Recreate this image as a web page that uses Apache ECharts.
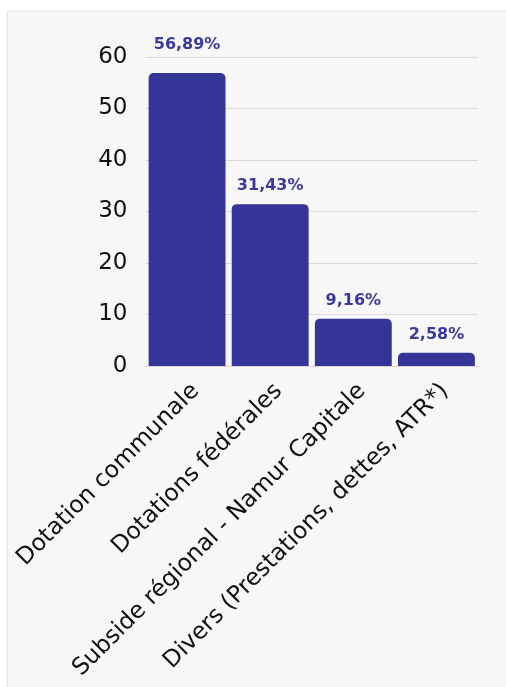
<!DOCTYPE html>
<html>
<head>
<meta charset="utf-8">
<script src="https://cdn.jsdelivr.net/npm/echarts@6/dist/echarts.min.js"></script>
<style>
html, body { margin: 0; padding: 0; background: #ffffff; width: 506px; height: 687px; overflow: hidden; }
#panel { position: absolute; left: 7px; top: 11px; width: 540px; height: 720px; background: #f7f7f7; border: 1px solid #dde9e9; box-sizing: border-box; }
#chart { position: absolute; left: 0; top: 0; width: 506px; height: 687px; }
</style>
</head>
<body>
<div id="panel"></div>
<div id="chart"></div>
<script>
const categories = [
  "Dotation communale",
  "Dotations fédérales",
  "Subside régional - Namur Capitale",
  "Divers (Prestations, dettes, ATR*)"
];
const values = [56.89, 31.43, 9.16, 2.58];
const yTicks = [0, 10, 20, 30, 40, 50, 60];

const chart = echarts.init(document.getElementById('chart'), null, { renderer: 'canvas' });
chart.setOption({
  backgroundColor: 'transparent',
  animation: false,
  grid: { left: 145.5, right: 28, top: 57, bottom: 321, containLabel: false },
  xAxis: {
    type: 'category',
    data: categories,
    axisLine: { show: true, lineStyle: { color: '#d6d6d6', width: 1 } },
    axisTick: { show: false },
    axisLabel: {
      rotate: 45,
      interval: 0,
      margin: 13,
      verticalAlign: 'top',
      color: '#111111',
      fontFamily: 'DejaVu Sans',
      fontSize: 23.5
    }
  },
  yAxis: {
    type: 'value',
    min: yTicks[0],
    max: yTicks[yTicks.length - 1],
    interval: 10,
    axisLine: { show: false },
    axisTick: { show: false },
    splitLine: { lineStyle: { color: '#d9d9d9', width: 1 } },
    axisLabel: {
      margin: 18,
      color: '#111111',
      fontFamily: 'DejaVu Sans',
      fontSize: 23
    }
  },
  series: [{
    type: 'bar',
    data: values.map((v, i) => i === 0 ? { value: v, label: { distance: 20 } } : v),
    barCategoryGap: '7.5%',
    itemStyle: { color: '#353497', borderRadius: [5, 5, 0, 0] },
    label: {
      show: true,
      position: 'top',
      distance: 10,
      color: '#3a3a9c',
      fontFamily: 'DejaVu Sans',
      fontWeight: 'bold',
      fontSize: 16,
      formatter: p => p.value.toFixed(2).replace('.', ',') + '%'
    }
  }]
});
</script>
</body>
</html>
